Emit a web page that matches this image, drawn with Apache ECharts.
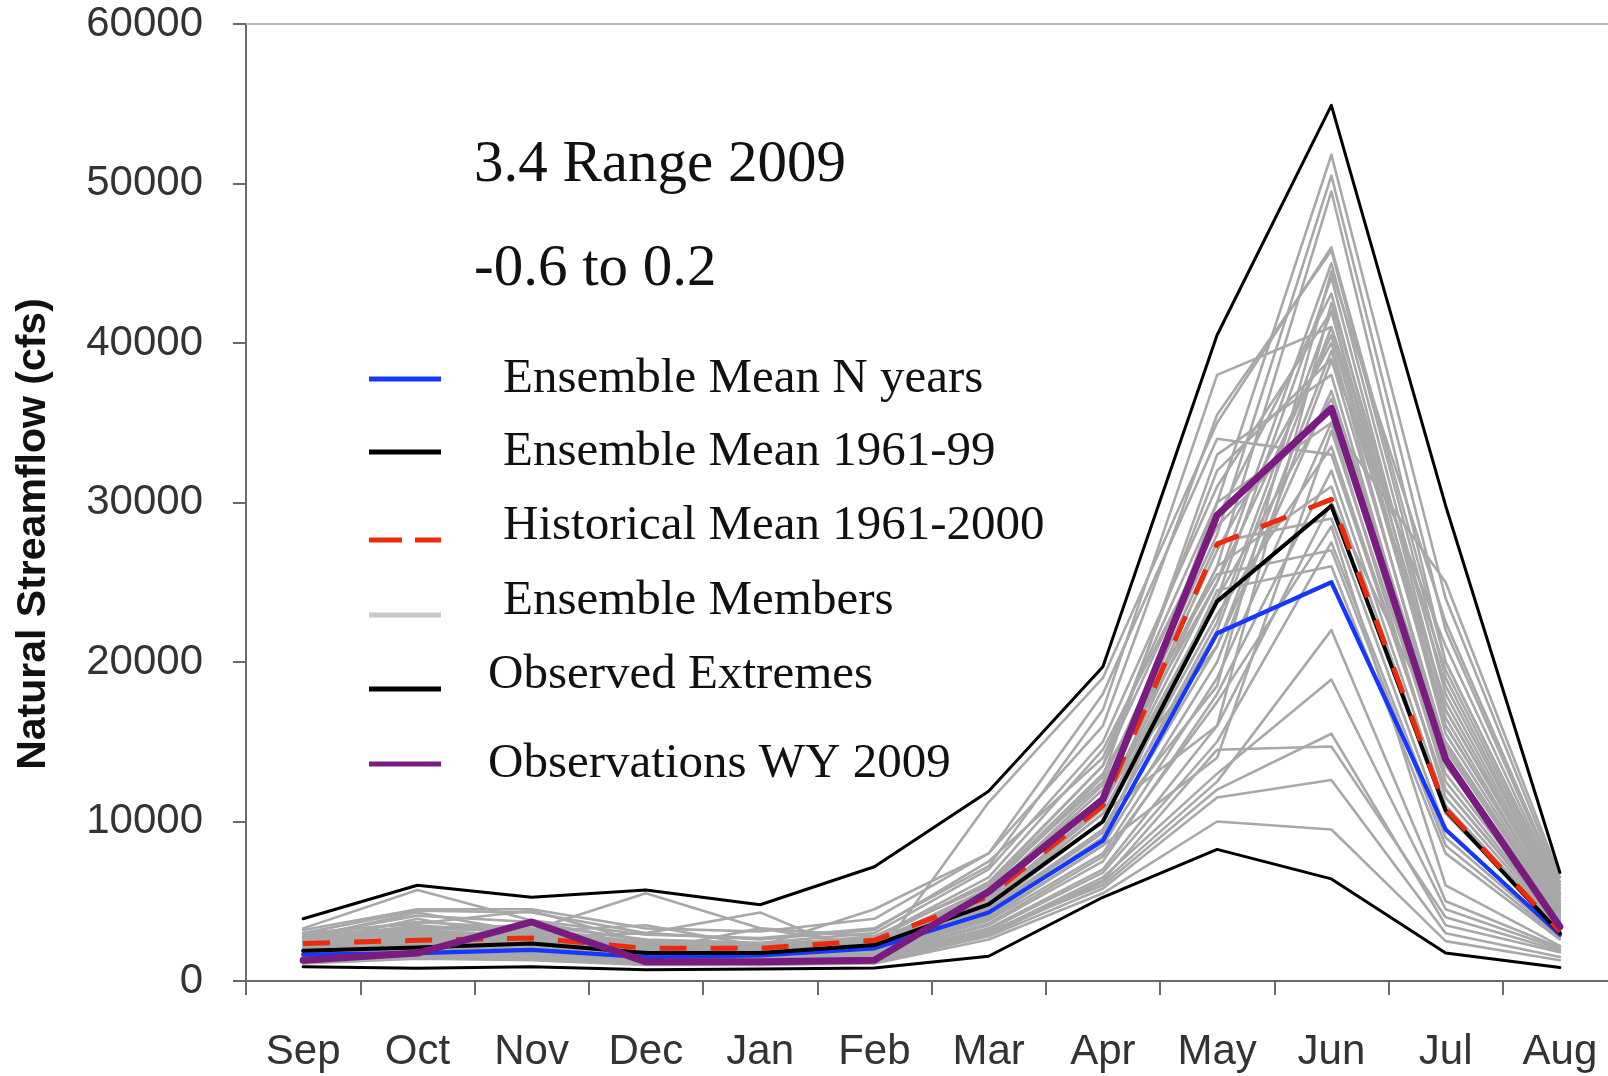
<!DOCTYPE html>
<html>
<head>
<meta charset="utf-8">
<title>Natural Streamflow 2009</title>
<script src="https://cdn.jsdelivr.net/npm/echarts@6/dist/echarts.min.js"></script>
<style>
  html, body { margin: 0; padding: 0; background: #ffffff; overflow: hidden; }
  /* drawing surface is a little wider than the window: the month axis runs past the right edge */
  #chart { width: 1618px; height: 1076px; }
</style>
</head>
<body>
<div id="chart"></div>
<script>
// Water-year months, September through August
const months = ['Sep', 'Oct', 'Nov', 'Dec', 'Jan', 'Feb', 'Mar', 'Apr', 'May', 'Jun', 'Jul', 'Aug'];

// Y axis ticks (cfs)
const yMin = 0;
const yMax = 60000;
const yStep = 10000;

// Ensemble mean, N years (blue)
const ensembleMeanN = [1650, 1750, 1950, 1500, 1600, 2050, 4300, 8800, 21800, 25000, 9500, 2900];
// Ensemble mean 1961-99 (black)
const ensembleMean6199 = [1900, 2100, 2350, 1750, 1750, 2250, 4800, 10000, 23800, 29800, 10700, 3000];
// Historical mean 1961-2000 (red dashed)
const historicalMean = [2350, 2550, 2700, 2050, 2050, 2550, 5300, 11000, 27400, 30200, 10800, 3100];
// Observed extremes (black envelope)
const observedMax = [3900, 6000, 5250, 5700, 4780, 7160, 11900, 19700, 40500, 54900, 29800, 6800];
const observedMin = [900, 800, 900, 700, 750, 810, 1550, 5250, 8250, 6400, 1750, 850];
// Observations WY 2009 (purple)
const observed2009 = [1300, 1750, 3700, 1200, 1200, 1300, 5600, 11400, 29200, 35900, 13900, 3400];

// Individual ensemble members (grey)
const ensembleMembers = [
  [3000, 4400, 4300, 3000, 2600, 3200, 7500, 14000, 30000, 51800, 24000, 6200],
  [2800, 4100, 3700, 2500, 2200, 2800, 6000, 12500, 28000, 50500, 22000, 5800],
  [2500, 3500, 3000, 2200, 2000, 2500, 5500, 12000, 26000, 49500, 20000, 5400],
  [3200, 4500, 4500, 3300, 3100, 3900, 8000, 16000, 35500, 45800, 19000, 5000],
  [2700, 3200, 2800, 2000, 1800, 2200, 5000, 11000, 25000, 45000, 18000, 4800],
  [2400, 3000, 2600, 1900, 1800, 2100, 4800, 10500, 24000, 44100, 17000, 4600],
  [2200, 2800, 3100, 2300, 2100, 2600, 6200, 13500, 29000, 43100, 16000, 4500],
  [2600, 3300, 3500, 2600, 2400, 3000, 7000, 15000, 31000, 42000, 15500, 4300],
  [2000, 2600, 2500, 1800, 1700, 2000, 4500, 9500, 22000, 41000, 19500, 5200],
  [2300, 2900, 2700, 2000, 1900, 2300, 5200, 11500, 27000, 40000, 14000, 4000],
  [1900, 2400, 2300, 1700, 1600, 1900, 4200, 9000, 21000, 39500, 17500, 4700],
  [2100, 2700, 2900, 2100, 2000, 2400, 5800, 12800, 33000, 38000, 13500, 3900],
  [1800, 2300, 2200, 1600, 1500, 1800, 4000, 8500, 20000, 38900, 21000, 5600],
  [3300, 5700, 3800, 2900, 2700, 3300, 7200, 17000, 38000, 41000, 16500, 4400],
  [2900, 3700, 3300, 2400, 2300, 2700, 6500, 14500, 28500, 36000, 12500, 3600],
  [1700, 2100, 2000, 1500, 1400, 1700, 3800, 8000, 19000, 35000, 25000, 6500],
  [2000, 2500, 2400, 1800, 1700, 2000, 4600, 10000, 23000, 33500, 12000, 3500],
  [1600, 2000, 1900, 1400, 1400, 1600, 3500, 7500, 18000, 32000, 11000, 3300],
  [2300, 2800, 2600, 1900, 1800, 2200, 5000, 11000, 26000, 31000, 10500, 3200],
  [1500, 1900, 1800, 1300, 1300, 1500, 3300, 7000, 16000, 30000, 15000, 4200],
  [2600, 3100, 2900, 2100, 2000, 2400, 5400, 12000, 27500, 29000, 9500, 3000],
  [1400, 1800, 1700, 1300, 1200, 1500, 3200, 6800, 15000, 27500, 9000, 2800],
  [2800, 3400, 3200, 5500, 3300, 2800, 6000, 13000, 25500, 27000, 8500, 2700],
  [1800, 2200, 2100, 1600, 1500, 1800, 4100, 9000, 24500, 26000, 8000, 2600],
  [1300, 1700, 1600, 1200, 1100, 1400, 3000, 6500, 13000, 18900, 4500, 2000],
  [1500, 1900, 1800, 1300, 1200, 1400, 3100, 6000, 12000, 15500, 3500, 1800],
  [1200, 1500, 1400, 1100, 1000, 1200, 2800, 5800, 11500, 12600, 3000, 1500],
  [1100, 1400, 1300, 1000, 1000, 1100, 2600, 5500, 10000, 9500, 2500, 1300],
  [2400, 2900, 2700, 3000, 4300, 1300, 11200, 19000, 35000, 46000, 20000, 5500],
  [1900, 2400, 2200, 1700, 1600, 2000, 4400, 9500, 18500, 44500, 22500, 6000],
  [2100, 2600, 2500, 1800, 1700, 2100, 4700, 10500, 16000, 42500, 18500, 5000],
  [2500, 3000, 2800, 2000, 1900, 2300, 5300, 11500, 21000, 37000, 14500, 4100],
  [1700, 2200, 2100, 1500, 1500, 1800, 3900, 8500, 14000, 34500, 13000, 3700],
  [2200, 2700, 2600, 1900, 1800, 2200, 4900, 10800, 30000, 35000, 11500, 3400],
  [2700, 4300, 3000, 2200, 2100, 2500, 5600, 12300, 25000, 40500, 16000, 4500],
  [3000, 3600, 4400, 2400, 2300, 2700, 6100, 13500, 32000, 39000, 14800, 4200],
  [1600, 2000, 1900, 1400, 1300, 1600, 3600, 7800, 17500, 28500, 6000, 2200],
  [2000, 2400, 2300, 1700, 1600, 1900, 4300, 9300, 22500, 42000, 17000, 4800],
  [1300, 1600, 1500, 1200, 1100, 1300, 2900, 6200, 12500, 22000, 5000, 2100],
  [2300, 3900, 2600, 1900, 3300, 2200, 5000, 11000, 24000, 36500, 13800, 3800],
  [2900, 3300, 3100, 3500, 2200, 4500, 8000, 18000, 34000, 33000, 12000, 3600],
  [1400, 1700, 1600, 1200, 1200, 1400, 3000, 6300, 14500, 14700, 4000, 1900]
];

// Legend / series names
const NAME_MEAN_N = 'Ensemble Mean N years';
const NAME_MEAN_6199 = 'Ensemble Mean 1961-99';
const NAME_HIST = 'Historical Mean 1961-2000';
const NAME_MEMBERS = 'Ensemble Members';
const NAME_EXTREMES = 'Observed Extremes';
const NAME_OBS = 'Observations WY 2009';

const SANS = '"Liberation Sans", Arial, Helvetica, sans-serif';
const SERIF = '"Liberation Serif", "Times New Roman", Times, serif';
const AXIS_GREY = '#6a6a6a';

const COLOR_BLUE = '#1438ff';
const COLOR_RED = '#ec2a0c';
const COLOR_PURPLE = '#7a1b80';
const COLOR_GREY = '#a8a8a8';

const chart = echarts.init(document.getElementById('chart'), null, { renderer: 'canvas' });

function lineSeries(name, data, color, width, extra) {
  return Object.assign({
    type: 'line',
    name: name,
    data: data,
    symbol: 'none',
    showSymbol: false,
    silent: true,
    animation: false,
    lineStyle: { color: color, width: width, join: 'round', cap: 'round' },
    itemStyle: { color: color }
  }, extra || {});
}

const series = [];
ensembleMembers.forEach(function (m) {
  series.push(lineSeries(NAME_MEMBERS, m, COLOR_GREY, 2.6));
});
series.push(lineSeries(NAME_EXTREMES, observedMax, '#000000', 3));
series.push(lineSeries(NAME_EXTREMES, observedMin, '#000000', 3));
series.push(lineSeries(NAME_MEAN_N, ensembleMeanN, COLOR_BLUE, 4.2));
series.push(lineSeries(NAME_MEAN_6199, ensembleMean6199, '#000000', 4));
series.push(lineSeries(NAME_HIST, historicalMean, COLOR_RED, 5, {
  lineStyle: { color: COLOR_RED, width: 5, type: [27, 24], cap: 'butt', join: 'round' }
}));
series.push(lineSeries(NAME_OBS, observed2009, COLOR_PURPLE, 7));

// Legend key shapes: a plain bar, and bars that sit below the text centre
const KEY_BAR = 'path://M0,0h72v5h-72z';
const KEY_BAR_LOW = 'path://M0,0h0.01v0.01h-0.01z M0,28h72v5h-72z';
const KEY_DASH_LOW = 'path://M0,0h0.01v0.01h-0.01z M0,28h33v5h-33z M46,28h26v5h-26z';

// One legend block per entry so each row sits where it belongs
function legendRow(name, top, color, icon, iconHeight, textLeft) {
  return {
    data: [{ name: name, icon: icon }],
    left: 369,
    top: top,
    padding: 0,
    selectedMode: false,
    itemWidth: 72,
    itemHeight: iconHeight,
    itemStyle: { color: color, borderWidth: 0, opacity: 1 },
    textStyle: {
      fontFamily: SERIF,
      fontSize: 49,
      color: '#111111',
      lineHeight: 56,
      padding: [0, 0, 0, textLeft]
    }
  };
}

const option = {
  backgroundColor: '#ffffff',
  animation: false,
  grid: { left: 246, right: 1, top: 24, bottom: 95, containLabel: false },
  xAxis: [{
    type: 'category',
    data: months,
    boundaryGap: true,
    axisLine: { show: true, lineStyle: { color: AXIS_GREY, width: 2 } },
    axisTick: { show: true, length: 14, inside: false, lineStyle: { color: AXIS_GREY, width: 2 } },
    axisLabel: { show: true, margin: 50, fontFamily: SANS, fontSize: 42, color: '#333333', interval: 0 },
    splitLine: { show: false }
  }, {
    type: 'category',
    data: months,
    position: 'top',
    boundaryGap: true,
    axisLine: { show: true, lineStyle: { color: '#b8b8b8', width: 2 } },
    axisTick: { show: false },
    axisLabel: { show: false },
    splitLine: { show: false }
  }],
  yAxis: {
    type: 'value',
    min: yMin,
    max: yMax,
    interval: yStep,
    axisLine: { show: true, lineStyle: { color: AXIS_GREY, width: 2 } },
    axisTick: { show: true, length: 13, inside: false, lineStyle: { color: AXIS_GREY, width: 2 } },
    axisLabel: {
      margin: 43, fontFamily: SANS, fontSize: 42, color: '#333333',
      formatter: function (v) { return String(v); }
    },
    splitLine: { show: false }
  },
  legend: [
    legendRow(NAME_MEAN_N, 351, COLOR_BLUE, KEY_BAR, 5, 57),
    legendRow(NAME_MEAN_6199, 424, '#000000', KEY_BAR, 5, 57),
    legendRow(NAME_HIST, 498, COLOR_RED, KEY_DASH_LOW, 33, 57),
    legendRow(NAME_MEMBERS, 573, '#c8c8c8', KEY_BAR_LOW, 33, 57),
    legendRow(NAME_EXTREMES, 647, '#000000', KEY_BAR_LOW, 33, 42),
    legendRow(NAME_OBS, 736, COLOR_PURPLE, KEY_BAR, 5, 42)
  ],
  graphic: [
    {
      type: 'text',
      x: 474,
      y: 165,
      silent: true,
      style: { text: '3.4 Range 2009', font: '59px ' + SERIF, fill: '#111111', verticalAlign: 'middle', align: 'left' }
    },
    {
      type: 'text',
      x: 474,
      y: 269,
      silent: true,
      style: { text: '-0.6 to 0.2', font: '59px ' + SERIF, fill: '#111111', verticalAlign: 'middle', align: 'left' }
    },
    {
      type: 'text',
      x: 34,
      y: 534,
      rotation: Math.PI / 2,
      silent: true,
      style: { text: 'Natural Streamflow (cfs)', font: 'bold 41px ' + SANS, fill: '#111111', verticalAlign: 'middle', align: 'center' }
    }
  ],
  series: series
};

chart.setOption(option);
</script>
</body>
</html>
